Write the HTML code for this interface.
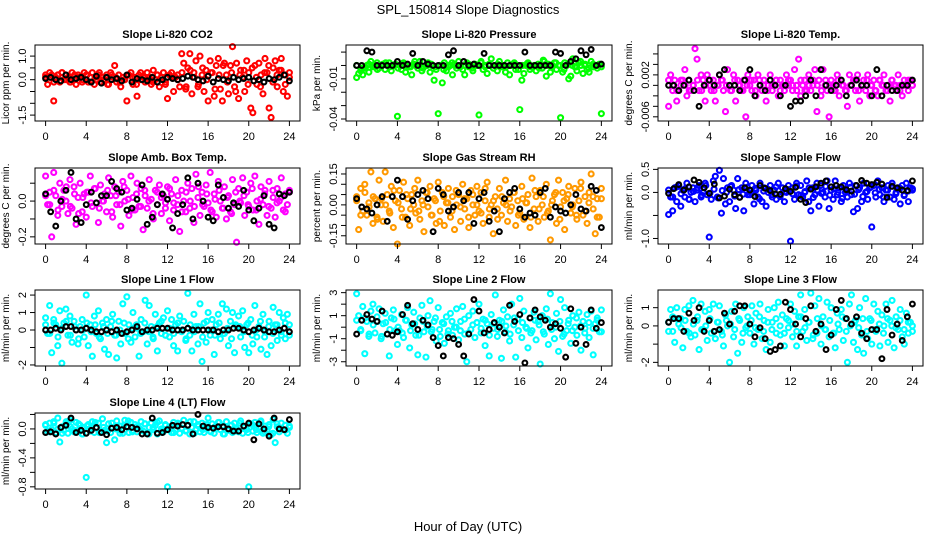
<!DOCTYPE html>
<html><head><meta charset="utf-8"><style>
body{margin:0;background:#fff;}
svg{display:block;font-family:"Liberation Sans",sans-serif;}
</style></head><body>
<svg id="chart" width="936" height="540" viewBox="0 0 936 540">
<rect width="936" height="540" fill="#fff"/>
<text x="468" y="14" text-anchor="middle" font-size="13">SPL_150814  Slope Diagnostics</text>
<text x="468" y="531" text-anchor="middle" font-size="13">Hour of Day (UTC)</text>
</svg>
<script>
// ---- data (colored = all slopes, black = hourly means) ----
const hourTicks = [0,4,8,12,16,20,24];
const co2Color = [0.1,-0.2,0.3,0.2,-0.9,0.1,0.2,-0.1,0.3,0.0, 0.2,0.1,-0.1,0.3,0.0,-0.2,0.2,0.1,-0.1,0.3, 0.2,-0.1,0.1,0.3,-0.2,0.0,0.2,-0.1,0.1,0.0, 0.2,-0.2,0.3,0.1,0.6,-0.1,0.2,-0.3,0.1,0.0, -0.9,0.2,0.3,-0.2,0.1,-0.7,0.2,0.0,0.1,-0.1, 0.3,0.1,-0.2,0.4,0.0,0.2,-0.3,0.1,0.3,-0.1, -0.8,0.2,0.3,-0.5,0.1,0.2,-0.3,1.1,0.7,-0.4, 0.5,1.1,-0.6,0.3,0.8,-0.3,1.0,0.2,-0.5,0.4, -0.9,0.8,0.3,-0.7,0.6,0.9,-0.4,-0.9,0.7,0.2, -0.6,0.6,1.4,-0.3,0.7,-0.8,0.4,0.1,-0.5,0.8, 0.3,-1.2,-1.4,0.6,-0.2,0.7,0.2,-0.6,0.9,0.3, -1.2,-1.6,0.5,0.8,-0.3,0.4,0.9,-0.5,0.2,-0.7, 0.1];
const co2Dense = [0.2,0.1,-0.1,0.2,0.3,0.0,-0.1,0.2,0.1,0.0,0.2,-0.1,0.1,0.3,0.0,-0.2,0.2,0.1,-0.1,0.0,0.2,0.1,-0.2,0.3,0.1,0.0,-0.1,0.2,0.1,-0.2,0.2,0.1,0.0,0.3,-0.3,0.4,0.1,-0.2,0.5,0.0,0.3,-0.4,0.2,0.6,-0.1,0.3,-0.5,0.2,0.4,-0.2,0.5,0.1,-0.3,0.3,0.6,-0.1,0.2,0.4,-0.2,0.3];
const co2Black = [0.05,0.1,0.0,-0.05,0.2,0.0,0.05,0.1,0.0,-0.1,0.15,-0.15,0.1,0.0,0.05,-0.05,0.2,-0.1,0.05,0.0,-0.05,0.1,-0.1,0.0,0.1,0.05,0.0,0.05,0.15,0.1,0.0,-0.05,0.15,-0.1,0.05,0.0,-0.05,0.1,0.0,0.05,0.1,-0.05,0.0,-0.1,0.05,0.0,0.1,0.2,-0.05];
const pressureColor = [-9,-6,-4,-7,-2,0,-5,3,-1,0, 2,-2,0,1,-3,0,2,-4,0,1, -38,0,-3,2,-5,0,-1,-7,1,0, -2,3,-4,-1,0,2,-5,0,-11,-3, -36,0,-13,2,-4,-1,0,-7,1,-2, 3,0,-3,-7,2,-1,0,-4,1,0, -37,2,-3,0,-6,1,5,-2,0,-4, 3,-1,0,-5,2,-7,0,1,-3,0, -33,-11,-6,0,2,-3,-1,0,-4,1, 0,-2,3,-8,1,-5,0,2,-3,0, -39,-5,2,0,-10,-8,5,-1,-4,2, 0,-6,1,-3,-5,3,-1,0,-2,1, -36];
const pressureDense = [0,-2,-1,1,0,-3,0,2,-1,0,-2,1,0,-1,3,0,-2,0,1,-1,0,-3,0,2,0,-1,0,1,-2,0,3,-1,0,-2,1,0,-1,0,2,-3,0,1,-1,0,-2,4,0,-1,2,0,-3,1,0,-1,3,0,-2,1,0,-1];
const pressureBlack = [0,0,11,10,0,0,0,0,3,0,1,9,0,3,1,0,0,0,8,11,0,3,0,1,0,9,0,0,0,0,0,0,0,10,0,0,0,0,0,10,9,0,3,5,11,8,12,0,1];
const tempColor = [-4,2,-1,1,-3,-1,0,1,3,-2, 1,-1,0,7,5,-1,2,1,-3,2, 0,-1,1,-3,0,2,1,-1,-5,3, 0,-1,2,-3,1,0,-1,1,-6,2, 0,-1,1,-2,2,0,-1,1,-3,0, 2,-1,0,1,-2,1,0,-1,2,0, 1,-1,3,0,5,-2,0,1,-1,2, -1,0,3,-5,1,-2,3,0,-1,-6, 1,0,-1,2,-2,1,0,-1,-4,2, 0,1,-1,2,-3,0,1,-1,2,-2, 0,1,-1,-2,1,0,2,-1,0,-3, 1,0,-1,2,0,-2,1,0,-1,1, 0];
const tempDense = [1,0,-1,1,0,-1,0,1,-1,0,1,-1,0,1,0,-1,1,0,-1,0,1,-1,1,0,-1,0,1,-1,0,1,0,-1,1,-1,0,1,0,-1,1,0,-1,1,0,-1,0,1,-1,0,1,0,-1,1,0,-1,1,0,-1,0,1,0];
const tempBlack = [0,0,-1,0,1,-1,-4,0,1,0,2,3,0,0,-1,1,3,-2,0,-1,1,0,-2,0,-4,-3,-3,-2,1,-2,3,0,-1,0,1,-2,0,1,0,0,-2,3,-2,0,-1,-1,0,0,1];
const ambColor = [14,-2,5,-20,16,3,-8,10,-3,6, 0,-7,12,-4,8,-13,2,10,-6,4, -9,5,14,-3,7,-1,-12,9,0,4, -6,13,3,-9,8,-2,5,-14,11,0, 6,-8,14,2,-5,10,-3,7,-16,3, -4,12,1,-10,6,-2,9,-7,3,-1, 8,-11,4,-5,12,-2,-17,6,0,-6, 10,-4,7,-12,15,2,-8,5,-3,9, -1,16,-6,4,-9,11,0,-4,8,-10, 3,-6,12,-2,-23,7,-1,13,-8,5, -3,10,-5,14,0,-13,8,-2,6,-8, 11,-4,2,-9,7,0,13,-5,4,-2, 6];
const ambDense = [3,-2,6,-5,1,8,-3,4,-7,2,5,-1,7,-4,0,6,-6,3,-2,8,1,-5,4,-3,6,0,-7,5,2,-4,7,-1,3,-6,5,0,-3,8,-2,4,-5,1,6,-4,2,-7,5,0,3,-2,7,-5,1,4,-3,6,-1,2,-6,5];
const ambBlack = [4,-6,-14,0,6,16,-10,-12,-2,5,-1,3,3,11,7,5,-5,-4,1,9,-13,-9,-2,4,1,-15,-7,-2,13,-10,10,0,-9,-11,9,2,-4,-1,-3,6,-5,-11,-4,3,-13,-15,4,3,5];
const rhColor = [4,-12,8,-3,10,-5,1,16,-9,3, -6,12,0,-8,16,5,-3,9,-11,2, -19,7,-2,11,-6,3,-10,5,0,-4, 12,-7,2,-13,6,-1,9,-5,3,-9, 11,-3,6,-10,1,8,-6,4,-12,0, 5,-8,10,-2,3,-11,7,0,-5,9, -3,6,-9,2,11,-6,0,-14,4,-2, 8,-5,1,12,-8,3,-1,6,-10,2, -4,9,-7,1,5,-11,13,-2,4,-8, 7,0,-6,10,-3,-17,2,5,-9,12, -1,6,-12,3,9,-4,0,8,-7,2, 11,-5,4,-9,6,15,-2,-14,3,-6, 8];
const rhDense = [2,-5,6,-1,4,-7,3,0,-4,7,1,-6,5,-2,8,-3,0,6,-5,2,-8,4,1,-3,7,-1,3,-6,5,0,-4,8,-2,2,-7,4,0,-3,6,-5,3,1,-6,7,-2,4,-4,0,6,-7,2,5,-1,-5,8,-3,1,4,-6,3];
const rhBlack = [3,-1,-2,-4,0,4,-8,4,12,4,-7,2,5,7,3,-13,8,5,-3,-1,6,2,6,-9,3,6,-8,-3,-13,3,6,8,-2,-6,-4,-5,6,8,-6,-1,-3,-4,0,5,-2,-3,9,7,-11];
const sampleColor = [-48,-10,-40,10,-20,15,-30,5,-10,20, -15,0,10,-20,5,15,-10,0,20,-5, -97,-15,25,35,-10,48,-45,30,-25,10, -20,15,5,-35,30,-10,10,-40,20,-5, -5,15,-25,5,-10,20,-20,10,-30,0, 15,-10,5,-15,20,-5,10,-20,0,15, -106,10,-15,20,-5,15,-10,0,25,-20, -40,10,-5,20,-30,15,0,-10,25,-35, 5,-15,25,-5,10,-20,15,0,-10,20, -5,-42,15,-35,10,-20,20,0,-15,10, -75,15,-10,25,-5,10,-20,5,15,-10, 20,-15,0,10,-25,15,-5,20,-20,10, 5];
const sampleDense = [5,-10,12,-3,8,-15,2,10,-6,15,-2,7,-12,4,0,13,-8,6,-4,11,-1,9,-14,3,7,-5,12,-9,1,6,-3,14,-7,2,10,-11,5,-2,13,-6,8,0,-13,4,11,-4,6,-9,2,12,-1,7,-10,5,14,-3,9,-7,3,8];
const sampleBlack = [-2,8,17,5,12,27,22,10,-2,18,-12,-8,7,-5,-11,10,5,-9,15,9,4,-3,-4,8,2,11,-15,-22,7,12,20,25,12,15,12,6,3,15,26,20,17,22,18,-11,13,10,5,4,25];
const line1Color = [7,-2,14,-13,6,3,-9,11,-19,4, 12,-3,8,-7,5,0,-8,2,6,-4, 20,-9,3,-15,8,-2,11,-5,4,-11, 6,-14,2,9,-3,-16,5,-8,15,-2, 19,3,-7,10,-4,1,-15,6,-1,17, -8,14,2,-5,9,-12,4,-2,7,-3, 11,-4,6,-9,3,-12,8,-1,5,-6, 21,-3,-12,9,2,-8,15,-18,4,-7, 10,-3,6,-14,3,9,-5,15,-2,12, -9,5,10,-13,2,8,-4,11,-10,3, -13,6,-8,14,-4,2,-11,9,-1,-14, 5,-9,13,3,-6,10,-3,7,-5,9, 3];
const line1Dense = [3,-2,4,-4,1,5,-3,2,-5,0,4,-1,3,-4,2,-2,5,-3,0,4,-5,1,3,-2,4,-1,-4,2,5,-3,1,-2,4,0,-5,3,-1,2,-4,5,0,-3,4,-2,1,-5,3,2,-1,4,-3,0,5,-4,2,-2,3,-1,4,-3];
const line1Black = [0,0,1,0,2,2,0,0,1,0,-1,-1,0,-1,0,-2,-1,0,2,-1,0,0,1,1,1,0,0,0,1,0,0,0,0,0,-1,0,0,1,1,0,-1,0,1,0,-1,-1,0,1,-1];
const line2Color = [29,10,-2,18,-23,5,-8,14,20,-5, 9,16,-10,3,12,-6,-25,8,15,-3, -15,-3,11,-9,6,17,-18,2,13,-7, -24,8,19,-4,-26,10,23,-2,5,-12, 17,-8,4,-14,9,-3,12,-7,0,16, -11,5,18,-6,-30,10,-2,14,-9,4, 20,-5,7,-16,3,-25,11,-1,28,-8, 6,-27,15,-4,9,-12,20,2,-26,7, 25,-9,14,0,-18,8,-3,13,-11,5, -32,10,-6,16,-15,29,4,-10,12,-21, 24,-8,17,-3,6,-14,10,0,-7,13, -20,5,-1,11,-9,14,-24,3,8,-4, 15];
const line2Dense = [6,-3,8,-6,2,5,-8,4,-2,7,0,-5,6,-3,3,-7,5,1,-4,8,-2,3,-6,5,0,-3,7,-5,2,4,-1,6,-7,3,-2,5,1,-6,8,-3,4,-1,-5,6,2,-4,7,-2,0,5,-6,3,-3,8,1,-5,4,-1,6,-4];
const line2Black = [-6,6,11,7,5,14,-6,-7,-4,11,19,3,-2,6,2,-9,-16,-25,-9,-10,-15,-25,-6,24,14,-5,-2,4,0,-5,19,5,11,-31,8,15,9,6,0,3,-1,-26,16,-14,0,-15,15,-1,4];
const line3Color = [-3,9,5,-9,10,1,4,-12,9,-3, 11,-6,14,-5,3,-13,12,-2,8,-8, 9,-4,12,-7,2,11,-3,-11,6,0, -20,8,-6,12,-15,3,-9,10,-1,5, -4,11,-10,7,-2,12,-7,3,-13,9, -9,2,10,-4,13,-5,6,-11,4,-1, 12,-6,8,-11,5,17,-3,9,-8,2, 18,-7,11,-4,15,-10,5,-2,13,-6, 10,-4,-12,7,-2,9,-8,4,-20,12, 17,-9,3,-13,10,-5,-15,15,-7,4, -10,12,-3,8,-11,6,0,12,-9,3, 14,-12,5,-2,9,-6,-10,7,-4,2, 0];
const line3Dense = [2,-3,4,-1,3,-4,1,5,-2,0,4,-3,2,-5,3,1,-2,4,-4,0,3,-1,5,-3,2,-2,4,0,-4,3,1,-3,5,-1,2,-5,4,0,-2,3,-4,1,5,-3,0,2,-1,4,-3,3,-2,1,-4,4,0,-1,3,-2,2,-3];
const line3Black = [2,4,4,-3,7,3,10,-3,3,-3,-2,7,1,8,11,11,1,-6,-1,-7,-14,-13,-11,13,9,1,-6,4,11,-3,1,-13,-5,9,14,4,1,5,-4,-7,-2,-2,-18,9,-5,1,-8,5,12];
const line4Color = [5,-3,8,-1,10,-5,15,-18,3,-2, 7,-6,12,0,-4,9,-2,5,-7,2, -67,6,-3,10,-5,1,8,-4,14,-2, -19,7,-5,2,-15,11,-1,4,-6,12, 3,-5,9,-2,6,-4,1,10,-3,7, -6,2,8,-1,5,-7,11,0,-4,6, -80,3,-5,9,-2,7,-6,1,12,-3, 5,-7,2,10,-1,6,-4,8,-5,3, 15,-3,7,-6,2,9,-1,4,-7,10, -2,5,-5,8,0,-4,11,-6,3,-1, -80,7,-3,9,-5,2,11,-6,4,-2, 6,-8,13,-19,3,-4,8,-1,5,-6, 2];
const line4Dense = [6,-4,8,0,-6,10,3,-2,7,-7,4,1,9,-5,2,-3,8,0,-6,5,11,-4,3,-1,7,-7,2,9,-3,5,0,-5,8,1,-2,10,-6,4,-1,6,-4,3,9,-7,0,5,-3,8,2,-5,6,-1,10,-4,3,-6,7,0,-2,4];
const line4Black = [-5,-4,-7,2,5,15,-5,-2,-6,-2,2,-5,-8,1,2,-1,3,2,0,-7,-7,15,-6,-5,-1,5,4,6,5,-7,20,4,2,1,3,3,0,-3,-3,4,8,-15,7,0,-10,15,0,-1,13];

const svg = document.getElementById('chart');
const NS = 'http://www.w3.org/2000/svg';
function mk(tag, attrs, parent){const e=document.createElementNS(NS,tag);for(const k in attrs)e.setAttribute(k,attrs[k]);(parent||svg).appendChild(e);return e;}

const cols=[{l:35,r:300},{l:346,r:612},{l:658,r:923}];
const rows=[{t:45,b:121},{t:168,b:244},{t:290,b:366},{t:413,b:489}];

const panels=[
 {name:'co2',title:'Slope Li-820 CO2',ylab:'Licor ppm per min.',c:0,r:0,ymin:-1.75,ymax:1.47,scale:1,color:'#ff0000',col:co2Color,dense:co2Dense,blk:co2Black,ticks:[-1.5,-1,-0.5,0,0.5,1],labels:{'-1.5':'-1.5','0':'0.0','1':'1.0'}},
 {name:'pressure',title:'Slope Li-820 Pressure',ylab:'kPa per min.',c:1,r:0,ymin:-0.0415,ymax:0.0153,scale:0.001,color:'#00ff00',col:pressureColor,dense:pressureDense,blk:pressureBlack,ticks:[-0.04,-0.03,-0.02,-0.01,0,0.01],labels:{'-0.04':'-0.04','-0.01':'-0.01'}},
 {name:'temp',title:'Slope Li-820 Temp.',ylab:'degrees C per min.',c:2,r:0,ymin:-0.0068,ymax:0.0077,scale:0.001,color:'#ff00ff',col:tempColor,dense:tempDense,blk:tempBlack,ticks:[-0.006,-0.004,-0.002,0,0.002,0.004,0.006],labels:{'-0.006':'-0.006','0.002':'0.002'}},
 {name:'amb-box',title:'Slope Amb. Box Temp.',ylab:'degrees C per min.',c:0,r:1,ymin:-0.24,ymax:0.185,scale:0.01,color:'#ff00ff',col:ambColor,dense:ambDense,blk:ambBlack,ticks:[-0.2,-0.1,0,0.1],labels:{'-0.2':'-0.2','0':'0.0'}},
 {name:'gas-rh',title:'Slope Gas Stream RH',ylab:'percent per min.',c:1,r:1,ymin:-0.19,ymax:0.179,scale:0.01,color:'#ff9900',col:rhColor,dense:rhDense,blk:rhBlack,ticks:[-0.15,-0.1,-0.05,0,0.05,0.1,0.15],labels:{'-0.15':'-0.15','0':'0.00','0.15':'0.15'}},
 {name:'sample-flow',title:'Slope Sample Flow',ylab:'ml/min per min.',c:2,r:1,ymin:-1.12,ymax:0.53,scale:0.01,color:'#0000ff',col:sampleColor,dense:sampleDense,blk:sampleBlack,ticks:[-1,-0.5,0,0.5],labels:{'-1':'-1.0','0':'0.0','0.5':'0.5'}},
 {name:'line1',title:'Slope Line 1 Flow',ylab:'ml/min per min.',c:0,r:2,ymin:-2.06,ymax:2.29,scale:0.1,color:'#00ffff',col:line1Color,dense:line1Dense,blk:line1Black,ticks:[-2,-1,0,1,2],labels:{'-2':'-2','0':'0','1':'1','2':'2'}},
 {name:'line2',title:'Slope Line 2 Flow',ylab:'ml/min per min.',c:1,r:2,ymin:-3.37,ymax:3.23,scale:0.1,color:'#00ffff',col:line2Color,dense:line2Dense,blk:line2Black,ticks:[-3,-2,-1,0,1,2,3],labels:{'-3':'-3','-1':'-1','1':'1','3':'3'}},
 {name:'line3',title:'Slope Line 3 Flow',ylab:'ml/min per min.',c:2,r:2,ymin:-2.2,ymax:1.97,scale:0.1,color:'#00ffff',col:line3Color,dense:line3Dense,blk:line3Black,ticks:[-2,-1,0,1],labels:{'-2':'-2','0':'0','1':'1'}},
 {name:'line4',title:'Slope Line 4 (LT) Flow',ylab:'ml/min per min.',c:0,r:3,ymin:-0.83,ymax:0.22,scale:0.01,color:'#00ffff',col:line4Color,dense:line4Dense,blk:line4Black,ticks:[-0.8,-0.6,-0.4,-0.2,0,0.2],labels:{'-0.8':'-0.8','-0.4':'-0.4','0':'0.0'}}
];

panels.forEach(p=>{
  const C=cols[p.c], R=rows[p.r];
  const pad=(C.r-C.l)*0.04;
  const xs=h=>C.l+pad+(h/24)*(C.r-C.l-2*pad);
  const ys=v=>R.b-(v-p.ymin)/(p.ymax-p.ymin)*(R.b-R.t);
  const g=mk('g',{});
  
  
  const cx=(C.l+C.r)/2;
  const t=mk('text',{x:cx,y:R.t-7,'text-anchor':'middle','font-size':11,'font-weight':'bold'},g);
  t.textContent=p.title;
  
  
  const cg=mk('g',{fill:'none',stroke:p.color,'stroke-width':2.1},g);
  
  
  [p.col,p.dense].forEach(arr=>{
    const n=arr.length;
    arr.forEach((v,i)=>{
      const y=ys(v*p.scale); if(y<R.t-2||y>R.b+2)return;
      const c=mk('circle',{cx:xs(i*24/(n-1)),cy:y,r:2.5},cg);
      
      
    });
  });
  const bg=mk('g',{fill:'none',stroke:'#000','stroke-width':2.1},g);
  
  
  const m=p.blk.length;
  p.blk.forEach((v,i)=>{
    const y=ys(v*p.scale); if(y<R.t-2||y>R.b+2)return;
    const c=mk('circle',{cx:xs(i*24/(m-1)),cy:y,r:2.4},bg);
    
    
  });
  const fr=mk('rect',{x:C.l,y:R.t,width:C.r-C.l,height:R.b-R.t,fill:'none',stroke:'#000','stroke-width':1},g);
  
  
  hourTicks.forEach(h=>{
    const x=xs(h);
    mk('line',{x1:x,x2:x,y1:R.b,y2:R.b+5,stroke:'#000'},g);
    const tl=mk('text',{x:x,y:R.b+19,'text-anchor':'middle','font-size':11},g);
    tl.textContent=h;
    
    
  });
  p.ticks.forEach(v=>{
    const y=ys(v);
    mk('line',{x1:C.l-5,x2:C.l,y1:y,y2:y,stroke:'#000'},g);
    const key=String(v);
    if(p.labels[key]!==undefined){
      const tl=mk('text',{x:C.l-9,y:y,'text-anchor':'middle','font-size':11,transform:`rotate(-90 ${C.l-9} ${y})`},g);
      tl.textContent=p.labels[key];
      
      
    }
  });
  const yl=mk('text',{x:C.l-26,y:(R.t+R.b)/2,'text-anchor':'middle','font-size':10,transform:`rotate(-90 ${C.l-26} ${(R.t+R.b)/2})`},g);
  yl.textContent=p.ylab;
  
  
});
</script>
</body></html>
